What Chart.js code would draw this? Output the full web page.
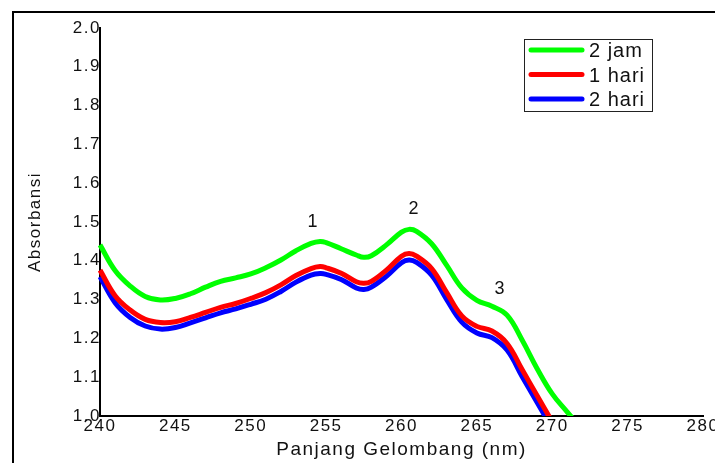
<!DOCTYPE html>
<html>
<head>
<meta charset="utf-8">
<title>Absorbansi</title>
<script src="https://cdn.jsdelivr.net/npm/chart.js@4.4.0/dist/chart.umd.min.js"></script>
<style>
  html, body { margin: 0; padding: 0; background: #fff; }
  #wrap { position: relative; width: 715px; height: 463px; }
</style>
</head>
<body>
<div id="wrap"><canvas id="spectrum" width="715" height="463"></canvas></div>
<script>
// Wavelength grid (nm) shared by the three spectra
const wavelengths = [240, 241, 242, 243, 244, 245, 246, 247, 248, 249, 250, 251, 252, 253, 254, 254.6,
  255, 256, 257, 257.5, 258, 259, 260, 260.5, 261, 262, 263, 264, 265, 266, 267, 268, 269, 270, 271, 272];

const abs2Jam = [1.441, 1.375, 1.335, 1.308, 1.299, 1.303, 1.315, 1.332, 1.347, 1.356, 1.366, 1.382, 1.402, 1.426, 1.445, 1.450,
  1.447, 1.431, 1.415, 1.409, 1.413, 1.441, 1.474, 1.481, 1.476, 1.444, 1.388, 1.330, 1.298, 1.283, 1.260, 1.196, 1.122, 1.057, 1.010, 0.965];
const abs1Hari = [1.376, 1.310, 1.273, 1.249, 1.241, 1.243, 1.254, 1.267, 1.280, 1.290, 1.303, 1.318, 1.338, 1.362, 1.380, 1.385,
  1.382, 1.368, 1.346, 1.342, 1.347, 1.376, 1.412, 1.419, 1.412, 1.380, 1.318, 1.258, 1.231, 1.219, 1.187, 1.120, 1.052, 0.985, 0.920, 0.860];
const abs2Hari = [1.359, 1.292, 1.254, 1.232, 1.224, 1.228, 1.240, 1.253, 1.266, 1.276, 1.288, 1.301, 1.321, 1.345, 1.363, 1.367,
  1.365, 1.352, 1.330, 1.326, 1.332, 1.360, 1.395, 1.402, 1.396, 1.363, 1.300, 1.242, 1.214, 1.202, 1.170, 1.102, 1.035, 0.968, 0.905, 0.845];

const seriesLabels = ['2 jam', '1 hari', '2 hari'];
const seriesColors = ['#00ff00', '#ff0000', '#0000ff'];

const xTickValues = [240, 245, 250, 255, 260, 265, 270, 275, 280];
const yTickValues = [1.0, 1.1, 1.2, 1.3, 1.4, 1.5, 1.6, 1.7, 1.8, 1.9, 2.0];

// Numbered absorption bands
const peakNames = ['1', '2', '3'];
const peakNm = [254.1, 260.8, 266.5];
const peakAbs = [1.500, 1.534, 1.326];

const TEXT = '#111';
const FONT = "'Liberation Sans', Arial, sans-serif";

const series = [abs2Jam, abs1Hari, abs2Hari];

const datasets = series.map((vals, i) => ({
  label: seriesLabels[i],
  data: wavelengths.map((w, j) => ({ x: w, y: vals[j] })),
  borderColor: seriesColors[i],
  backgroundColor: seriesColors[i],
  borderWidth: 5,
  pointRadius: 0,
  fill: false,
  tension: 0.4,
  clip: { left: 3, top: 3, right: 3, bottom: 0 }
}));

// outer frame + wider glyph spacing for every label
const framePlugin = {
  id: 'frame',
  beforeDraw(chart) {
    const ctx = chart.ctx;
    ctx.letterSpacing = '1.5px';
    ctx.save();
    ctx.strokeStyle = '#000';
    ctx.lineWidth = 2;
    ctx.beginPath();
    ctx.moveTo(13, 463);
    ctx.lineTo(13, 12);
    ctx.lineTo(715, 12);
    ctx.stroke();
    ctx.restore();
  }
};

const annotatePlugin = {
  id: 'annotate',
  afterDraw(chart) {
    const ctx = chart.ctx;
    const xs = chart.scales.x, ys = chart.scales.y;
    ctx.save();

    // band numbers
    ctx.letterSpacing = '0px';
    ctx.fillStyle = TEXT;
    ctx.font = '18px ' + FONT;
    ctx.textAlign = 'center';
    ctx.textBaseline = 'middle';
    peakNames.forEach((name, i) => {
      ctx.fillText(name, xs.getPixelForValue(peakNm[i]), ys.getPixelForValue(peakAbs[i]));
    });

    // legend box
    const bx = 524.5, by = 39.5, bw = 128, bh = 72;
    ctx.fillStyle = '#fff';
    ctx.fillRect(bx, by, bw, bh);
    ctx.strokeStyle = '#222';
    ctx.lineWidth = 1;
    ctx.strokeRect(bx, by, bw, bh);

    ctx.font = '20px ' + FONT;
    ctx.letterSpacing = '1px';
    ctx.textAlign = 'left';
    ctx.textBaseline = 'alphabetic';
    chart.data.datasets.forEach((ds, i) => {
      const y = 50 + i * 24.5;
      ctx.strokeStyle = ds.borderColor;
      ctx.lineWidth = 5;
      ctx.lineCap = 'round';
      ctx.beginPath();
      ctx.moveTo(531, y);
      ctx.lineTo(582, y);
      ctx.stroke();
      ctx.fillStyle = TEXT;
      ctx.fillText(ds.label, 589, y + 7);
    });
    ctx.restore();
  }
};

new Chart(document.getElementById('spectrum'), {
  type: 'line',
  data: { datasets },
  options: {
    responsive: false,
    animation: false,
    layout: { padding: { top: 28, right: 12, left: 0, bottom: 0 } },
    plugins: {
      legend: { display: false },
      tooltip: { enabled: false }
    },
    scales: {
      x: {
        type: 'linear',
        min: 240,
        max: 280,
        grid: { display: false, drawTicks: false },
        border: { display: true, color: '#000', width: 2 },
        afterBuildTicks: (s) => { s.ticks = xTickValues.map(v => ({ value: v })); },
        afterFit: (s) => { s.height = 47; s.paddingLeft = 0; s.paddingRight = 0; },
        ticks: {
          color: TEXT,
          font: { family: FONT, size: 17 },
          padding: 0,
          maxRotation: 0,
          autoSkip: false,
          callback: (v) => String(v)
        },
        title: {
          display: true,
          text: 'Panjang Gelombang (nm)',
          color: TEXT,
          font: { family: FONT, size: 19 },
          padding: { top: 0, bottom: 2 }
        }
      },
      y: {
        min: 1.0,
        max: 2.0,
        grid: { display: false, drawTicks: false },
        border: { display: true, color: '#000', width: 2 },
        afterBuildTicks: (s) => { s.ticks = yTickValues.map(v => ({ value: v })); },
        afterFit: (s) => { s.width = 100; },
        ticks: {
          color: TEXT,
          font: { family: FONT, size: 17 },
          padding: -1,
          autoSkip: false,
          callback: (v) => Number(v).toFixed(1)
        },
        title: {
          display: true,
          text: 'Absorbansi',
          color: TEXT,
          font: { family: FONT, size: 17 },
          padding: { top: 25, bottom: 0 }
        }
      }
    }
  },
  plugins: [framePlugin, annotatePlugin]
});
</script>
</body>
</html>
